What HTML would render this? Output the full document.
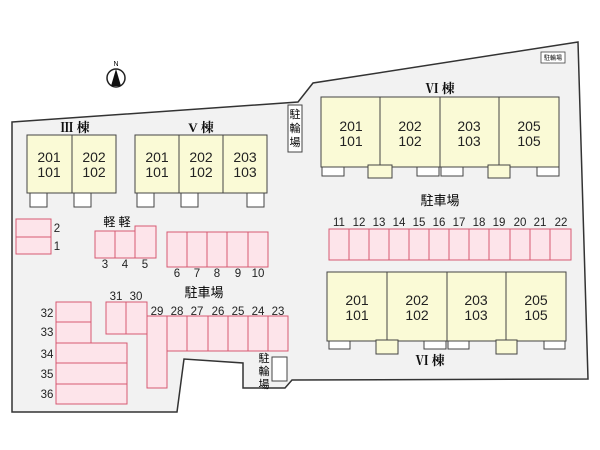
<!DOCTYPE html>
<html><head><meta charset="utf-8"><style>
body{margin:0;background:#fff}
svg{display:block;font-family:"Liberation Sans","Noto Sans CJK JP",sans-serif}
.b{fill:#fafad6;stroke:#444;stroke-width:1}
.w{fill:#fff;stroke:#444;stroke-width:1}
.p{fill:#fde4ea;stroke:#d65a72;stroke-width:1}
.t{font-size:14px;fill:#222;text-anchor:middle}
.n{font-size:11.5px;fill:#222;text-anchor:middle}
.k{font-size:13px;fill:#111;text-anchor:middle;font-weight:bold;font-family:"Liberation Serif","Noto Serif CJK SC",serif}
</style></head><body>
<svg width="600" height="450" viewBox="0 0 600 450">
<polygon points="12,122 298,102 313,83 578,42 588,379 292,380 285,388 243,388 243,363 184,359 177,412 12,412" fill="#f2f2f2" stroke="#333" stroke-width="1.5"/>
<!-- compass -->
<circle cx="116" cy="78" r="9" fill="#fff" stroke="#222" stroke-width="1.5"/>
<polygon points="116,69 111,86 121,86" fill="#111"/>
<text x="116" y="66" font-size="7" text-anchor="middle">N</text>
<!-- top right -->
<rect x="541" y="52" width="24" height="11" fill="#fff" stroke="#444" stroke-width="0.8"/>
<text x="553" y="60" font-size="6" text-anchor="middle">駐輪場</text>
<!-- bike parking top -->
<rect x="288" y="105" width="14" height="47" fill="#fff" stroke="#444"/>
<text x="295" y="118" font-size="11" text-anchor="middle">駐</text>
<text x="295" y="132" font-size="11" text-anchor="middle">輪</text>
<text x="295" y="146" font-size="11" text-anchor="middle">場</text>
<!-- III -->
<text class="k" x="75" y="132">Ⅲ 棟</text>
<g>
<rect class="w" x="30" y="193" width="17" height="14"/><rect class="w" x="74" y="193" width="17" height="14"/>
<rect class="b" x="27" y="135" width="45" height="58"/><rect class="b" x="72" y="135" width="44" height="58"/>
<text class="t" x="49" y="162">201</text><text class="t" x="49" y="177">101</text>
<text class="t" x="94" y="162">202</text><text class="t" x="94" y="177">102</text>
</g>
<!-- V -->
<text class="k" x="201" y="132">V 棟</text>
<rect class="w" x="137" y="193" width="17" height="14"/><rect class="w" x="181" y="193" width="17" height="14"/><rect class="w" x="247" y="193" width="17" height="14"/>
<rect class="b" x="135" y="135" width="44" height="58"/><rect class="b" x="179" y="135" width="44" height="58"/><rect class="b" x="223" y="135" width="44" height="58"/>
<text class="t" x="157" y="162">201</text><text class="t" x="157" y="177">101</text>
<text class="t" x="201" y="162">202</text><text class="t" x="201" y="177">102</text>
<text class="t" x="245" y="162">203</text><text class="t" x="245" y="177">103</text>
<!-- VI top -->
<text class="k" x="440" y="93">Ⅵ 棟</text>
<rect class="w" x="322" y="165" width="22" height="11"/><rect class="w" x="417" y="165" width="22" height="11"/><rect class="w" x="441" y="165" width="22" height="11"/><rect class="w" x="537" y="165" width="22" height="11"/>
<rect class="b" x="321" y="97" width="59" height="70"/><rect class="b" x="380" y="97" width="60" height="70"/><rect class="b" x="440" y="97" width="59" height="70"/><rect class="b" x="499" y="97" width="60" height="70"/>
<rect class="b" x="368" y="165" width="24" height="13" stroke="none"/><rect class="b" x="488" y="165" width="22" height="13" stroke="none"/>
<text class="t" x="351" y="131">201</text><text class="t" x="351" y="146">101</text>
<text class="t" x="410" y="131">202</text><text class="t" x="410" y="146">102</text>
<text class="t" x="469" y="131">203</text><text class="t" x="469" y="146">103</text>
<text class="t" x="529" y="131">205</text><text class="t" x="529" y="146">105</text>
<text x="440" y="205" font-size="13" text-anchor="middle">駐車場</text>
<!-- 11-22 -->
<g>
<rect class="p" x="329" y="229" width="20" height="31"/><rect class="p" x="349" y="229" width="20" height="31"/><rect class="p" x="369" y="229" width="20" height="31"/><rect class="p" x="389" y="229" width="20" height="31"/><rect class="p" x="409" y="229" width="20" height="31"/><rect class="p" x="429" y="229" width="20" height="31"/><rect class="p" x="449" y="229" width="20" height="31"/><rect class="p" x="469" y="229" width="20" height="31"/><rect class="p" x="489" y="229" width="21" height="31"/><rect class="p" x="510" y="229" width="20" height="31"/><rect class="p" x="530" y="229" width="20" height="31"/><rect class="p" x="550" y="229" width="21" height="31"/>
</g>
<g class="n">
<text class="n" x="339" y="226">11</text><text class="n" x="359" y="226">12</text><text class="n" x="379" y="226">13</text><text class="n" x="399" y="226">14</text><text class="n" x="419" y="226">15</text><text class="n" x="439" y="226">16</text><text class="n" x="459" y="226">17</text><text class="n" x="479" y="226">18</text><text class="n" x="499" y="226">19</text><text class="n" x="520" y="226">20</text><text class="n" x="540" y="226">21</text><text class="n" x="561" y="226">22</text>
</g>
<!-- VI bottom -->
<rect class="w" x="329" y="341" width="21" height="8"/><rect class="w" x="424" y="341" width="22" height="8"/><rect class="w" x="448" y="341" width="21" height="8"/><rect class="w" x="544" y="341" width="21" height="8"/>
<rect class="b" x="327" y="272" width="60" height="69"/><rect class="b" x="387" y="272" width="60" height="69"/><rect class="b" x="447" y="272" width="59" height="69"/><rect class="b" x="506" y="272" width="60" height="69"/>
<rect class="b" x="376" y="340" width="22" height="14" stroke="none"/><rect class="b" x="496" y="340" width="21" height="14" stroke="none"/>
<text class="t" x="357" y="305">201</text><text class="t" x="357" y="320">101</text>
<text class="t" x="417" y="305">202</text><text class="t" x="417" y="320">102</text>
<text class="t" x="476" y="305">203</text><text class="t" x="476" y="320">103</text>
<text class="t" x="536" y="305">205</text><text class="t" x="536" y="320">105</text>
<text class="k" x="430" y="365">Ⅵ 棟</text>
<!-- 1,2 -->
<rect class="p" x="16" y="219" width="35" height="18"/><rect class="p" x="16" y="237" width="35" height="17"/>
<text class="n" x="57" y="232">2</text><text class="n" x="57" y="250">1</text>
<!-- 3-5 -->
<text x="117" y="226" font-size="12" text-anchor="middle">軽 軽</text>
<rect class="p" x="95" y="231" width="20" height="27"/><rect class="p" x="115" y="231" width="20" height="27"/><rect class="p" x="135" y="226" width="21" height="32"/>
<text class="n" x="105" y="268">3</text><text class="n" x="125" y="268">4</text><text class="n" x="145" y="268">5</text>
<!-- 6-10 -->
<rect class="p" x="167" y="232" width="20" height="35"/><rect class="p" x="187" y="232" width="20" height="35"/><rect class="p" x="207" y="232" width="20" height="35"/><rect class="p" x="227" y="232" width="21" height="35"/><rect class="p" x="248" y="232" width="20" height="35"/>
<text class="n" x="177" y="277">6</text><text class="n" x="197" y="277">7</text><text class="n" x="217" y="277">8</text><text class="n" x="238" y="277">9</text><text class="n" x="258" y="277">10</text>
<text x="204" y="297" font-size="13" text-anchor="middle">駐車場</text>
<!-- 32-36 -->
<rect class="p" x="56" y="302" width="35" height="20"/><rect class="p" x="56" y="322" width="35" height="21"/>
<rect class="p" x="56" y="343" width="71" height="20"/><rect class="p" x="56" y="363" width="71" height="21"/><rect class="p" x="56" y="384" width="71" height="20"/>
<g class="n"><text class="n" x="47" y="317">32</text><text class="n" x="47" y="336">33</text><text class="n" x="47" y="358">34</text><text class="n" x="47" y="378">35</text><text class="n" x="47" y="398">36</text></g>
<!-- 31,30 -->
<rect class="p" x="106" y="302" width="20" height="32"/><rect class="p" x="126" y="302" width="21" height="32"/>
<text class="n" x="116" y="300">31</text><text class="n" x="136" y="300">30</text>
<!-- 29-23 -->
<rect class="p" x="147" y="316" width="20" height="72"/>
<rect class="p" x="167" y="316" width="20" height="35"/><rect class="p" x="187" y="316" width="21" height="35"/><rect class="p" x="208" y="316" width="20" height="35"/><rect class="p" x="228" y="316" width="20" height="35"/><rect class="p" x="248" y="316" width="20" height="35"/><rect class="p" x="268" y="316" width="20" height="35"/>
<text class="n" x="157" y="315">29</text><text class="n" x="177" y="315">28</text><text class="n" x="197" y="315">27</text><text class="n" x="218" y="315">26</text><text class="n" x="238" y="315">25</text><text class="n" x="258" y="315">24</text><text class="n" x="278" y="315">23</text>
<!-- bike bottom -->
<rect x="272" y="357" width="15" height="24" fill="#fff" stroke="#444"/>
<text x="264" y="362" font-size="11" text-anchor="middle">駐</text>
<text x="264" y="375" font-size="11" text-anchor="middle">輪</text>
<text x="264" y="388" font-size="11" text-anchor="middle">場</text>
</svg>
</body></html>
